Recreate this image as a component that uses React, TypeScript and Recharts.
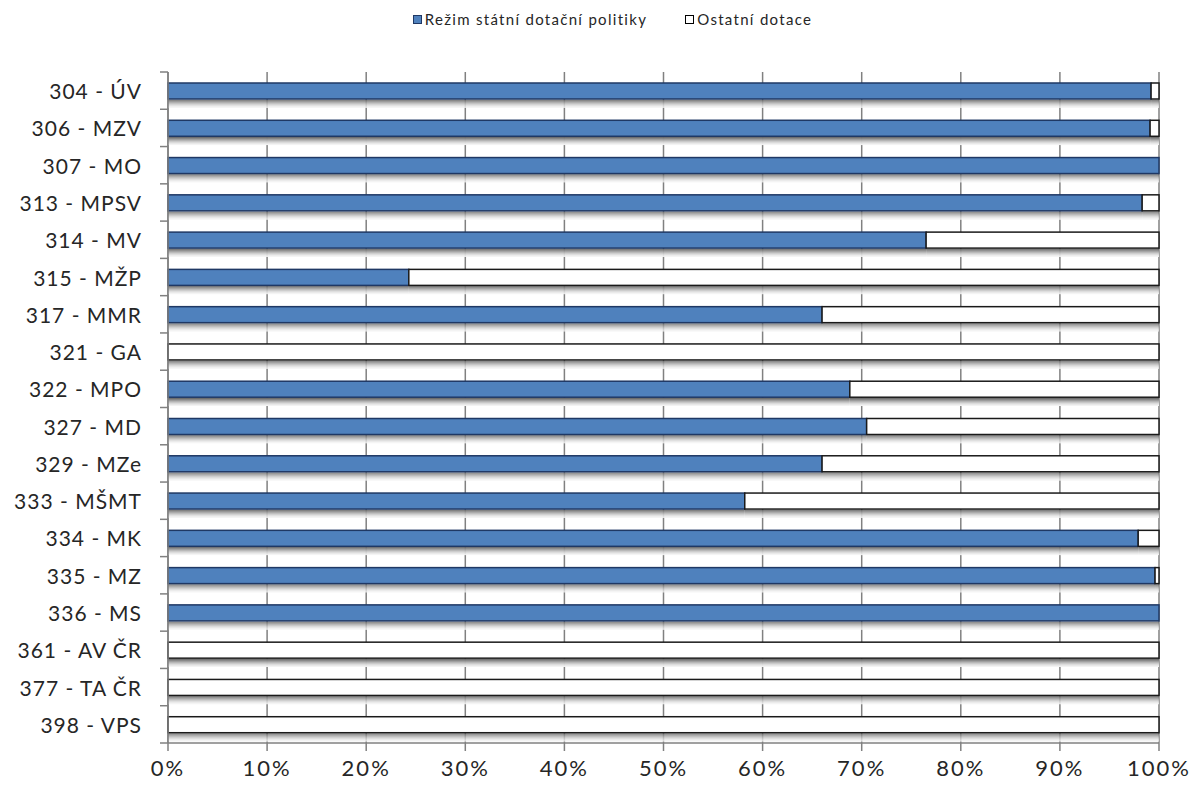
import React from 'react';
import { BarChart, Bar, XAxis, YAxis, CartesianGrid, Legend } from 'recharts';

const categories = [
  '304 - ÚV', '306 - MZV', '307 - MO', '313 - MPSV', '314 - MV', '315 - MŽP',
  '317 - MMR', '321 - GA', '322 - MPO', '327 - MD', '329 - MZe', '333 - MŠMT',
  '334 - MK', '335 - MZ', '336 - MS', '361 - AV ČR', '377 - TA ČR', '398 - VPS',
];
const rezim = [99.2, 99.1, 100, 98.3, 76.5, 24.3, 66.0, 0, 68.8, 70.5, 66.0, 58.2, 97.9, 99.6, 100, 0, 0, 0];
const ostatni = [0.8, 0.9, 0, 1.7, 23.5, 75.7, 34.0, 100, 31.2, 29.5, 34.0, 41.8, 2.1, 0.4, 0, 100, 100, 100];
const xTicks = [0, 0.1, 0.2, 0.3, 0.4, 0.5, 0.6, 0.7, 0.8, 0.9, 1];

const SERIES1 = 'Režim státní dotační politiky';
const SERIES2 = 'Ostatní dotace';

const data = categories.map((name, i) => ({ name, rezim: rezim[i], ostatni: ostatni[i] }));

const W = 1192;
const H = 789;
const MARGIN = { top: 0, right: 33, bottom: 0, left: 0 };
const LEGEND_H = 72;
const XAXIS_H = 46;
const PLOT_H = H - LEGEND_H - XAXIS_H;
const BAND = PLOT_H / categories.length;
const FONT = 'Lato, "Open Sans", sans-serif';
const TEXT = '#262626';
const SHADOW = ['#6e6e6e', '#858585', '#9c9c9c', '#b3b3b3', '#c8c8c8', '#dadada', '#e8e8e8', '#f3f3f3'];

const renderBar = (props: any) => {
  const { x, y, width, height, fill, stroke } = props;
  const w = Math.max(0, Number(width) || 0);
  const b = y + height + 0.75;
  return (
    <g>
      {SHADOW.map((c, i) => (
        <rect key={i} x={x} y={b + i} width={w} height={1.05} fill={c} />
      ))}
      <rect x={x} y={y} width={w} height={height} fill={fill} stroke={stroke} strokeWidth={1.5} />
    </g>
  );
};

const YTick = (props: any) => {
  const { x, y, payload, index } = props;
  const axisX = x + 26;
  return (
    <g>
      <text x={x} y={y} textAnchor="end" dominantBaseline="central" fontFamily={FONT} fontSize={21} letterSpacing={1} fill={TEXT}>
        {payload.value}
      </text>
      <line x1={axisX - 8} x2={axisX} y1={y - BAND / 2} y2={y - BAND / 2} stroke="#808080" strokeWidth={1.5} />
      {index === categories.length - 1 && (
        <line x1={axisX - 8} x2={axisX} y1={y + BAND / 2} y2={y + BAND / 2} stroke="#808080" strokeWidth={1.5} />
      )}
    </g>
  );
};

const LegendContent = () => (
  <div
    style={{
      height: LEGEND_H,
      display: 'flex',
      justifyContent: 'center',
      alignItems: 'flex-start',
      paddingTop: 10,
      paddingLeft: 66,
      boxSizing: 'border-box',
      fontFamily: FONT,
      fontSize: 15,
      letterSpacing: 1.3,
      color: TEXT,
    }}
  >
    <span style={{ display: 'flex', alignItems: 'center', marginRight: 38 }}>
      <span style={{ width: 7, height: 7, background: '#4F81BD', border: '1px solid #1F3864', marginRight: 3 }} />
      {SERIES1}
    </span>
    <span style={{ display: 'flex', alignItems: 'center' }}>
      <span style={{ width: 7, height: 7, background: '#fff', border: '1px solid #000', marginRight: 3 }} />
      {SERIES2}
    </span>
  </div>
);

export default function App() {
  return (
    <div style={{ position: 'absolute', left: 0, top: 0, width: W, height: H, background: '#fff' }}>
      <BarChart
        width={W}
        height={H}
        data={data}
        layout="vertical"
        stackOffset="expand"
        margin={MARGIN}
        barSize={16}
      >
        <Legend verticalAlign="top" align="center" content={<LegendContent />} />
        <CartesianGrid horizontal={false} vertical stroke="#808080" strokeWidth={1.5} />
        <XAxis
          type="number"
          domain={[0, 1]}
          ticks={xTicks}
          tickFormatter={(v: number) => `${Math.round(v * 100)}%`}
          height={XAXIS_H}
          tickSize={8}
          tickMargin={9}
          axisLine={{ stroke: '#808080', strokeWidth: 1.5 }}
          tickLine={{ stroke: '#808080', strokeWidth: 1.5 }}
          tick={{ fontFamily: FONT, fontSize: 22, fill: TEXT, letterSpacing: 2 }}
          interval={0}
        />
        <YAxis
          type="category"
          dataKey="name"
          width={168}
          tickSize={8}
          tickMargin={18}
          tickLine={false}
          axisLine={{ stroke: '#808080', strokeWidth: 1.5 }}
          tick={<YTick />}
          interval={0}
        />
        <Bar dataKey="rezim" name={SERIES1} stackId="a" fill="#4F81BD" stroke="#1F3864" shape={renderBar} isAnimationActive={false} />
        <Bar dataKey="ostatni" name={SERIES2} stackId="a" fill="#FFFFFF" stroke="#1a1a1a" shape={renderBar} isAnimationActive={false} />
      </BarChart>
    </div>
  );
}
